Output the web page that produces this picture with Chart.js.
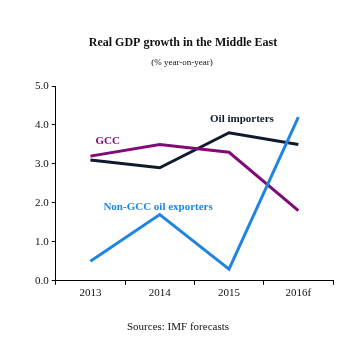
<!DOCTYPE html>
<html>
<head>
<meta charset="utf-8">
<script src="https://cdn.jsdelivr.net/npm/chart.js@4"></script>
<style>
  html, body { margin: 0; padding: 0; background: #fff; }
  #wrap { position: relative; width: 363px; height: 359px; }
</style>
</head>
<body>
<div id="wrap"><canvas id="chart" width="363" height="359"></canvas></div>
<script>
// ---- data ----
const years = ['2013', '2014', '2015', '2016f'];
const gcc = [3.2, 3.5, 3.3, 1.8];
const oilImporters = [3.1, 2.9, 3.8, 3.5];
const nonGccExporters = [0.5, 1.7, 0.3, 4.2];
const yTicks = [0, 1, 2, 3, 4, 5];

const serif = '"Liberation Serif", "DejaVu Serif", serif';
const purple = '#800a78';
const navy = '#0f1a2c';
const blue = '#1e86e2';

// series names written straight onto the plot, anchored to data coords
const seriesLabels = [
  { text: 'GCC', color: purple, x: 0, y: 3.58, dx: 5 },
  { text: 'Oil importers', color: navy, x: 2, y: 4.15, dx: -19 },
  { text: 'Non-GCC oil exporters', color: blue, x: 0, y: 1.88, dx: 13 }
];

const textPlugin = {
  id: 'texts',
  afterDraw(chart) {
    const ctx = chart.ctx;
    const xs = chart.scales.x, ys = chart.scales.y;
    ctx.save();
    ctx.textBaseline = 'middle';
    ctx.font = 'bold 11px ' + serif;
    seriesLabels.forEach(l => {
      ctx.fillStyle = l.color;
      ctx.textAlign = 'left';
      ctx.fillText(l.text, xs.getPixelForValue(l.x) + l.dx, ys.getPixelForValue(l.y));
    });
    ctx.fillStyle = '#111';
    ctx.textAlign = 'center';
    ctx.font = 'bold 12px ' + serif;
    ctx.fillText('Real GDP growth in the Middle East', 183, 43);
    ctx.font = '9px ' + serif;
    ctx.fillText('(% year-on-year)', 182, 63);
    ctx.font = '11px ' + serif;
    ctx.fillText('Sources: IMF forecasts', 178, 327);
    ctx.restore();
  }
};

function line(data, color) {
  return {
    data: data,
    borderColor: color,
    borderWidth: 3,
    pointRadius: 0,
    tension: 0,
    fill: false
  };
}

new Chart(document.getElementById('chart'), {
  type: 'line',
  data: {
    labels: years,
    datasets: [
      line(nonGccExporters, blue),
      line(gcc, purple),
      line(oilImporters, navy)
    ]
  },
  options: {
    responsive: false,
    animation: false,
    layout: { padding: { left: 32, right: 30, top: 86, bottom: 57 } },
    plugins: { legend: { display: false }, tooltip: { enabled: false } },
    scales: {
      x: {
        type: 'category',
        offset: true,
        border: { color: '#000', width: 1 },
        grid: { display: true, drawOnChartArea: false, offset: true, color: '#000', tickLength: 4 },
        ticks: { color: '#111', font: { family: serif, size: 11 }, padding: 2 }
      },
      y: {
        min: 0,
        max: 5,
        afterBuildTicks: s => { s.ticks = yTicks.map(v => ({ value: v })); },
        border: { color: '#000', width: 1 },
        grid: { display: true, drawOnChartArea: false, color: '#000', tickLength: 4 },
        ticks: {
          color: '#111',
          font: { family: serif, size: 11 },
          padding: 3,
          callback: v => v.toFixed(1)
        }
      }
    }
  },
  plugins: [textPlugin]
});
</script>
</body>
</html>
